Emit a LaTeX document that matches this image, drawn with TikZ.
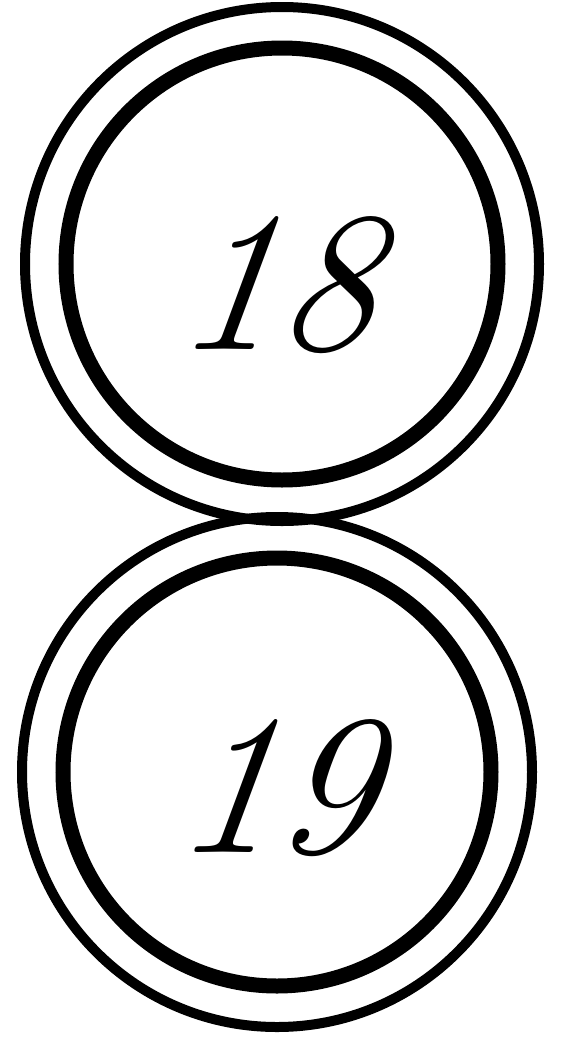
\documentclass[tikz,border=0pt]{standalone}
\usetikzlibrary{math,calc}

\tikzset{
  outerring/.style={line width=10pt},
  innerring/.style={line width=15pt},
  numlabel/.style={font=\fontsize{200}{200}\selectfont\itshape, inner sep=0pt, xslant=0.12}
}

\begin{document}
\begin{tikzpicture}[x=1pt,y=1pt]
\tikzmath{
\Ro=257;% outer ring
\Ri=216;% inner ring
\Rob=255;
\Rib=214;
}
\useasboundingbox (0,0) rectangle (568,-1037);
\coordinate (C1) at (282,-264);
\coordinate (C2) at (277,-772);
%upper signal
\draw[outerring] (C1) circle (\Ro);
\draw[innerring] (C1) circle (\Ri);
\node[numlabel] (n18) at ($(C1)+(-2,-21)$) {18};
%lower signal
\draw[outerring] (C2) circle (\Rob);
\draw[innerring] (C2) circle (\Rib);
\node[numlabel] (n19) at ($(C2)+(2,-16)$) {19};
\end{tikzpicture}
\end{document}
